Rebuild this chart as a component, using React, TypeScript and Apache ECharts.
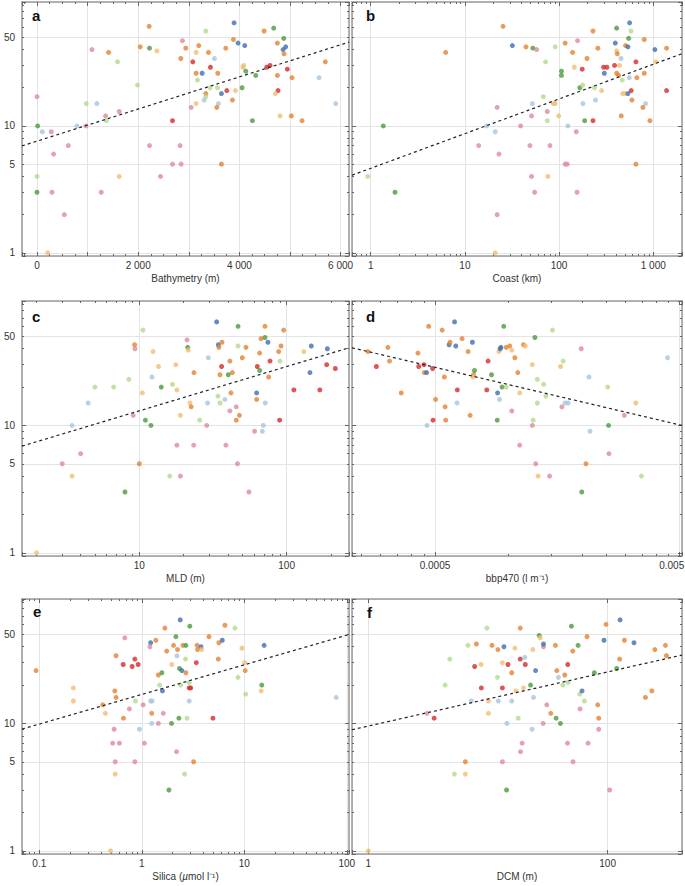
import React, { useEffect, useRef } from "react";
import * as echarts from "echarts";

// ---------- shared scales ----------
const Y_MIN = 0.944;
const Y_MAX = 94.8;
const yTicksMain = [1, 10];
const yTicksFive = [5, 50];

// ---------- panel a: Bathymetry ----------
const aX = [
  0, 1086, 1415, 1592, 1987, 2040, 2217, 2224, 2369, 2875,
  2941, 2842, 3079, 3145, 3198, 3336, 3389, 3507, 3428, 3145,
  3264, 3573, 3171, 3421, 3566, 3336, 3336, 3303, 3145, 3047,
  3586, 3553, 3645, 3751, 3731, 3882, 3895, 3974, 4106, 3922,
  3863, 4086, 4070, 4126, 4323, 4053, 4257, 4488, 4678, 4876,
  4751, 4863, 4915, 4882, 4540, 4606, 4948, 4751, 5040, 4764,
  4711, 4803, 5027, 5238, 5698, 5573, 5903, 2678, 13, 105,
  283, 329, 619, 790, 967, 974, 1184, 1355, 1369, 1625,
  2224, 2829, 2678, 2849, 2441, 1625, 3645, 0, 0, 296,
  1270, 540, 211,
];
const aY = [
  17, 40, 38, 32, 21, 42, 61, 41, 39, 47,
  41, 34, 32, 38, 43, 56, 38, 34, 29, 26,
  26, 26, 23, 20, 20, 18, 17, 16, 15, 14,
  15, 14, 18, 19, 41, 48, 65, 45, 43, 19,
  16, 30, 29, 27, 25, 20, 11, 56, 59, 49,
  45, 40, 42, 37, 29, 30, 28, 25, 24, 19,
  18, 12, 12, 11, 32, 24, 15, 11, 10, 9,
  9, 6, 7, 10, 10, 15, 15, 12, 11, 13,
  7, 7, 5, 5, 4, 4, 5, 4, 3, 3,
  3, 2, 1,
];
const aC = [
  "P", "P", "O", "LG", "LG", "O", "O", "G", "LO", "P",
  "O", "O", "R", "LO", "O", "LG", "O", "LB", "R", "O",
  "B", "O", "LG", "LG", "LG", "O", "LG", "LB", "LO", "P",
  "LB", "O", "B", "R", "O", "O", "B", "B", "B", "LO",
  "O", "LO", "LO", "G", "G", "G", "G", "O", "G", "G",
  "O", "B", "B", "O", "R", "R", "R", "O", "O", "R",
  "LO", "LO", "O", "O", "O", "LB", "LB", "R", "G", "LB",
  "P", "P", "P", "LB", "P", "LG", "LB", "P", "LG", "P",
  "P", "P", "P", "P", "P", "LO", "O", "LG", "G", "P",
  "P", "P", "LO",
];
const aTicks = [0, 2000, 4000, 6000];
const aRange = [-296, 6166];
const aFitX = [-296, 6166];
const aFitY = [6.96, 45.8];

// ---------- panel b: Coast ----------
const bX = [
  25.4, 6.25, 1.36, 0.93, 1.81, 31.9, 44.5, 52.8, 57.8, 71.9,
  91, 116, 157, 139, 106, 106, 145, 198, 176, 229,
  258, 408, 561, 579, 547, 395, 508, 538, 408, 415,
  454, 802, 1040, 297, 322, 388, 438, 654, 1066, 1384,
  302, 408, 428, 556, 670, 802, 469, 166, 178, 238,
  283, 473, 504, 538, 583, 1384, 593, 776, 828, 457,
  921, 187, 229, 244, 179, 68, 87, 91, 52, 75,
  51, 75, 99, 22, 17, 39, 124, 21, 152, 14,
  49, 80, 23, 116, 122, 654, 51, 76, 55, 155,
  22, 21,
];
const bY = [
  61, 38, 10, 4, 3, 43, 42, 41, 40, 32,
  42, 45, 47, 38, 27, 25, 29, 34, 28, 56,
  41, 59, 65, 56, 49, 45, 43, 42, 39, 37,
  34, 48, 40, 29, 29, 30, 30, 32, 32, 41,
  26, 26, 25, 24, 24, 26, 23, 20, 21, 20,
  19, 18, 18, 18, 19, 19, 16, 14, 15, 12,
  11, 11, 11, 16, 15, 17, 15, 15, 15, 13,
  12, 11, 12, 14, 10, 10, 10, 9, 9, 7,
  7, 7, 6, 5, 5, 5, 4, 4, 3, 3,
  2, 1,
];
const bC = [
  "O", "O", "G", "LG", "G", "B", "O", "G", "P", "LG",
  "LG", "O", "P", "O", "G", "G", "LO", "O", "R", "O",
  "O", "G", "B", "LG", "G", "B", "O", "B", "LO", "O",
  "LB", "O", "B", "R", "R", "R", "LO", "R", "LO", "O",
  "B", "O", "O", "LB", "O", "O", "LG", "G", "LG", "LG",
  "LO", "LO", "LO", "B", "R", "R", "O", "O", "LB", "O",
  "O", "G", "R", "LB", "LB", "LG", "LO", "LO", "LB", "P",
  "P", "LG", "LO", "P", "LB", "P", "LB", "LB", "P", "P",
  "P", "P", "P", "P", "P", "O", "P", "LO", "P", "P",
  "P", "LO",
];
const bTicks = [1, 10, 100, 1000];
const bRange = [0.633, 2018];
const bFitX = [0.633, 2018];
const bFitY = [4.09, 37.1];

// ---------- panel c: MLD ----------
const cX = [
  2.01, 3.0, 3.5, 4.0, 3.5, 4.5, 5.0, 6.7, 8.5, 8.0,
  9.1, 9.3, 9.35, 10, 10.6, 10.5, 11.0, 12.0, 12.4, 12.2,
  13.5, 14.1, 16.8, 16.1, 17.7, 18.0, 18.0, 19.0, 19.0, 21.1,
  21.3, 21.5, 22.1, 22.5, 23.5, 23.4, 25.7, 28.7, 29.1, 29.4,
  33.5, 34.4, 34.7, 36.4, 36.2, 35.3, 34.2, 35.3, 38.1, 38.7,
  40.2, 41.2, 41.9, 42.8, 41.2, 46.8, 46.8, 45.5, 47.8, 45.5,
  46.4, 50, 53, 55.5, 60.6, 62.6, 62.6, 63.2, 65.6, 65.6,
  67, 68.4, 69.5, 71.3, 71.3, 71.6, 74.6, 75.5, 77.1, 88.3,
  90.1, 91.6, 89.6, 95.5, 112, 131, 144, 147, 168, 187,
  189, 214,
];
const cY = [
  1, 5, 4, 6, 10, 15, 20, 20, 23, 3,
  12, 43, 40, 5, 56, 18, 11, 10, 38, 24,
  29, 20, 21, 4, 30, 19, 7, 4, 12, 47,
  41, 39, 15, 14, 26, 7, 11, 10, 15, 34,
  65, 43, 41, 45, 29, 25, 17, 15, 16, 7,
  25, 32, 18, 26, 13, 60, 42, 14, 12, 11,
  5, 34, 41, 3, 9, 18, 16, 29, 27, 37,
  48, 9, 10, 49, 60, 15, 45, 24, 32, 38,
  32, 42, 11, 56, 19, 38, 26, 42, 19, 30,
  40, 28,
];
const cC = [
  "LO", "P", "LO", "P", "LB", "LB", "LG", "LG", "LG", "G",
  "P", "O", "P", "O", "LG", "LO", "G", "G", "LO", "LB",
  "LO", "G", "LG", "LG", "LO", "LO", "P", "P", "LO", "P",
  "G", "LO", "LO", "O", "O", "P", "LG", "P", "LB", "LB",
  "B", "B", "O", "O", "R", "O", "LG", "LG", "LB", "P",
  "G", "O", "O", "O", "P", "G", "LG", "P", "O", "O",
  "P", "O", "O", "P", "P", "B", "O", "R", "G", "O",
  "O", "LB", "LB", "G", "O", "LB", "B", "O", "R", "O",
  "LG", "O", "R", "O", "R", "LO", "B", "B", "R", "R",
  "B", "R",
];
const cTicks = [10, 100];
const cRange = [1.6, 265];
const cFitX = [1.6, 265];
const cFitY = [6.88, 40.7];

// ---------- panel d: bbp470 ----------
const dX = [
  0.000266, 0.000288, 0.000321, 0.000326, 0.000364, 0.000426, 0.000429, 0.000451, 0.000452, 0.000462,
  0.000471, 0.000489, 0.000491, 0.000464, 0.000503, 0.000535, 0.000546, 0.00055, 0.000553, 0.000571,
  0.000576, 0.000601, 0.000608, 0.000617, 0.000615, 0.000645, 0.000683, 0.000696, 0.000711, 0.000718,
  0.000725, 0.000714, 0.000824, 0.000814, 0.000851, 0.000898, 0.000901, 0.000918, 0.000912, 0.000923,
  0.00093, 0.00094, 0.000955, 0.000977, 0.000977, 0.00101, 0.00103, 0.00103, 0.00106, 0.00109,
  0.00111, 0.00111, 0.00115, 0.00117, 0.00125, 0.00126, 0.00125, 0.00128, 0.00129, 0.00131,
  0.00131, 0.00132, 0.00139, 0.00142, 0.00147, 0.00151, 0.00163, 0.00167, 0.00165, 0.0017,
  0.00175, 0.00198, 0.00199, 0.00207, 0.00213, 0.00215, 0.00254, 0.00256, 0.00257, 0.00297,
  0.00331, 0.00349, 0.00446,
];
const dY = [
  38, 29, 41, 32, 18, 37, 29, 30, 26, 26,
  60, 28, 11, 10, 16, 56, 24, 14, 11, 43,
  45, 65, 42, 19, 15, 48, 38, 12, 45, 25,
  27, 24, 32, 19, 25, 11, 18, 16, 38, 40,
  41, 20, 60, 20, 41, 42, 39, 13, 34, 26,
  18, 7, 43, 42, 30, 11, 10, 49, 5, 23,
  15, 4, 21, 17, 4, 56, 29, 32, 14, 15,
  15, 40, 3, 5, 24, 9, 20, 10, 6, 12,
  15, 4, 34,
];
const dC = [
  "O", "R", "O", "O", "O", "O", "R", "R", "O", "B",
  "O", "R", "R", "LB", "O", "O", "O", "O", "O", "B",
  "O", "B", "B", "R", "LB", "O", "O", "O", "B", "O",
  "G", "LO", "R", "R", "G", "G", "B", "LB", "LO", "B",
  "B", "G", "G", "LG", "O", "O", "LO", "P", "O", "O",
  "LO", "P", "O", "LO", "LO", "LG", "P", "G", "P", "LG",
  "LG", "LO", "LG", "LG", "P", "LG", "LO", "LG", "P", "LB",
  "LB", "P", "G", "O", "LB", "LB", "LG", "G", "P", "P",
  "LO", "LG", "LB",
];
const dTicks = [0.0005, 0.005];
const dRange = [0.000229, 0.00511];
const dFitX = [0.000229, 0.00511];
const dFitY = [40.7, 10.0];

// ---------- panel e: Silica ----------
const eX = [
  0.093, 0.215, 0.215, 0.416, 0.441, 0.545, 0.561, 0.561, 0.537, 0.52,
  0.605, 0.55, 0.55, 0.497, 0.658, 0.682, 0.662, 0.757, 0.805, 0.855,
  0.921, 0.867, 0.855, 0.949, 1.03, 1.06, 1.22, 1.2, 1.22, 1.26,
  1.25, 1.25, 1.37, 1.45, 1.45, 1.49, 1.57, 1.59, 1.68, 1.75,
  1.62, 1.95, 1.96, 2.04, 2.15, 2.2, 2.23, 2.18, 2.3, 2.33,
  2.37, 2.39, 2.46, 2.52, 2.61, 2.67, 2.69, 2.69, 2.76, 2.9,
  2.9, 3.0, 2.9, 2.94, 3.2, 1.84, 3.4, 3.46, 3.5, 3.78,
  3.83, 4.52, 4.94, 5.57, 5.65, 6.1, 6.47, 8.1, 8.67, 9.48,
  10.07, 10.2, 10.3, 14.6, 14.8, 15.6, 78.7,
];
const eY = [
  26, 19, 15, 14, 12, 18, 16, 34, 9, 7,
  7, 5, 4, 1, 29, 47, 11, 13, 28, 32,
  29, 15, 5, 9, 14, 7, 43, 40, 15, 15,
  10, 12, 45, 10, 24, 20, 25, 18, 56, 37,
  12, 10, 29, 41, 48, 34, 38, 6, 11, 27,
  65, 20, 26, 41, 4, 32, 25, 41, 11, 21,
  19, 19, 15, 58, 5, 3, 30, 41, 38, 40,
  38, 48, 11, 32, 43, 45, 59, 56, 23, 39,
  30, 26, 17, 18, 20, 41, 16,
];
const eC = [
  "O", "LO", "LO", "O", "LO", "O", "O", "O", "P", "P",
  "P", "P", "LO", "LO", "R", "P", "O", "P", "R", "R",
  "R", "LG", "P", "LB", "P", "P", "B", "P", "LB", "LB",
  "LB", "O", "O", "P", "O", "LG", "G", "B", "O", "O",
  "P", "G", "LO", "O", "G", "LB", "O", "P", "G", "G",
  "B", "LG", "B", "O", "LG", "LG", "O", "G", "LG", "LG",
  "R", "R", "LB", "G", "O", "G", "R", "O", "O", "B",
  "LO", "O", "R", "O", "O", "B", "O", "LG", "LG", "LO",
  "LO", "O", "LG", "LO", "G", "B", "LB",
];
const eTicks = [0.1, 1, 10, 100];
const eRange = [0.0678, 105];
const eFitX = [0.0678, 105];
const eFitY = [9.03, 49.9];

// ---------- panel f: DCM ----------
const fX = [
  1.0, 3.1, 3.55, 4.38, 4.8, 5.24, 6.47, 6.47, 6.8, 7.26,
  7.74, 8.0, 8.75, 8.8, 9.8, 10.1, 10.1, 10.8, 12.1, 12.0,
  12.2, 13.2, 13.2, 13.2, 13.6, 14.3, 14.4, 14.7, 15.8, 15.8,
  16.8, 17.1, 17.9, 18.6, 18.6, 18.7, 19.3, 19.8, 20.3, 20.5,
  22.7, 23.7, 24, 23.4, 25, 26.8, 27.3, 28.9, 29.1, 29.1,
  31, 33.5, 36.6, 37.1, 37.6, 38.8, 40.3, 42.2, 43.8, 46.2,
  46.4, 46.7, 49.8, 51.1, 51.4, 56.6, 58.4, 58.8, 61.1, 63.9,
  67.2, 68.6, 77.4, 82.6, 84.2, 84.2, 93.2, 96.9, 104, 119,
  126, 127, 138, 166, 207, 234, 248, 304, 310,
];
const fY = [
  1, 12, 11, 20, 32, 4, 4, 5, 41, 15,
  28, 42, 29, 19, 56, 15, 12, 41, 38, 23,
  15, 30, 19, 5, 40, 3, 10, 29, 25, 15,
  39, 18, 11, 56, 32, 6, 7, 19, 33, 29,
  20, 38, 16, 9, 26, 49, 47, 10, 40, 42,
  14, 12, 41, 11, 26, 23, 10, 20, 24, 7,
  29, 21, 58, 37, 5, 41, 17, 13, 18, 15,
  48, 7, 25, 14, 11, 9, 45, 60, 3, 27,
  32, 65, 45, 43, 16, 18, 38, 41, 34,
];
const fC = [
  "LO", "P", "R", "LG", "LG", "LG", "LO", "O", "LG", "LB",
  "R", "O", "LO", "R", "LG", "LO", "LO", "O", "O", "LG",
  "LB", "LO", "R", "P", "B", "G", "LB", "R", "O", "LB",
  "LO", "LO", "LG", "O", "R", "P", "P", "LO", "LB", "R",
  "G", "LO", "LB", "LB", "B", "G", "LO", "P", "P", "B",
  "P", "O", "O", "G", "O", "LB", "G", "LG", "O", "P",
  "R", "LG", "G", "O", "P", "G", "LG", "P", "B", "LG",
  "O", "P", "G", "O", "O", "P", "B", "O", "P", "G",
  "O", "B", "O", "B", "O", "O", "O", "O", "O",
];
const fTicks = [1, 100];
const fRange = [0.731, 418];
const fFitX = [0.731, 418];
const fFitY = [8.92, 34.4];

// ---------- styling ----------
const PALETTE: Record<string, string> = {
  P: "#e0899c",
  LB: "#a6c5df",
  LG: "#b3d98c",
  G: "#4a9b3c",
  B: "#3e6fb0",
  R: "#d42a2a",
  LO: "#f2bd72",
  O: "#e5822f",
};
const FONT = "'Liberation Sans', Arial, Helvetica, sans-serif";
const FRAME = "#9a9a9a";
const GRIDC = "#e4e4e4";
const TICK = "#666";
const TXT = "#333";

function fmt(v: number): string {
  if (v >= 1000) return String(v).replace(/\B(?=(\d{3})+(?!\d))/g, " ");
  return String(v);
}
function pickLabel(v: number, ticks: number[], scale = 1): string {
  const val = v * scale;
  for (const t of ticks) {
    if (t === 0 ? Math.abs(val) < 1e-9 : Math.abs(val / t - 1) < 1e-6) return fmt(t);
  }
  return "";
}

type Panel = {
  letter: string;
  letterPos: [number, number];
  grid: { left: number; top: number; width: number; height: number };
  xType: "value" | "log";
  logBase?: number;
  range: number[];
  ticks: number[];
  twin?: number;
  shiftLast?: boolean;
  minor: number;
  name: string;
  rich?: any;
  x: number[];
  y: number[];
  c: string[];
  fitX: number[];
  fitY: number[];
  yLabels: boolean;
};

const panels: Panel[] = [
  { letter: "a", letterPos: [32, 8], grid: { left: 22, top: 2, width: 327, height: 254 }, xType: "value", range: aRange, ticks: aTicks, minor: 4, name: "Bathymetry (m)", x: aX, y: aY, c: aC, fitX: aFitX, fitY: aFitY, yLabels: true },
  { letter: "b", letterPos: [366, 8], grid: { left: 352, top: 2, width: 330, height: 254 }, xType: "log", range: bRange, ticks: bTicks, minor: 9, name: "Coast (km)", x: bX, y: bY, c: bC, fitX: bFitX, fitY: bFitY, yLabels: false },
  { letter: "c", letterPos: [32, 309], grid: { left: 22, top: 301, width: 327, height: 255 }, xType: "log", range: cRange, ticks: cTicks, minor: 9, name: "MLD (m)", x: cX, y: cY, c: cC, fitX: cFitX, fitY: cFitY, yLabels: true },
  { letter: "d", letterPos: [366, 309], grid: { left: 352, top: 301, width: 330, height: 255 }, xType: "log", range: dRange, ticks: dTicks, twin: 2, shiftLast: true, minor: 9, name: "bbp470 (l m⁻¹)", x: dX, y: dY, c: dC, fitX: dFitX, fitY: dFitY, yLabels: false },
  { letter: "e", letterPos: [33, 604], grid: { left: 22, top: 599, width: 327, height: 255 }, xType: "log", range: eRange, ticks: eTicks, minor: 9, name: "Silica ({it|µ}mol l⁻¹)", rich: { it: { fontStyle: "italic", fontSize: 10, fontFamily: FONT, color: TXT } }, x: eX, y: eY, c: eC, fitX: eFitX, fitY: eFitY, yLabels: true },
  { letter: "f", letterPos: [367, 605], grid: { left: 352, top: 599, width: 330, height: 255 }, xType: "log", logBase: 100, range: fRange, ticks: fTicks, minor: 0, name: "DCM (m)", x: fX, y: fY, c: fC, fitX: fFitX, fitY: fFitY, yLabels: false },
];

function buildOption() {
  const xAxes: any[] = [];
  const yAxes: any[] = [];
  const series: any[] = [];
  const line = { show: true, onZero: false, lineStyle: { color: FRAME, width: 1.5 } };
  const tick = { show: true, inside: true, length: 4, lineStyle: { color: TICK, width: 1 } };
  const minorTick = (n: number) => ({ show: n > 0, splitNumber: n > 0 ? n : 5, length: 2, lineStyle: { color: TICK, width: 1 } });
  const labelStyle = { fontSize: 10, fontFamily: FONT, color: TXT };

  panels.forEach((p, i) => {
    const twin = p.twin ?? 1;
    const common = { gridIndex: i, type: p.xType, logBase: p.logBase ?? 10 };
    const dispMin = p.range[0] * twin;
    const dispMax = p.range[1] * twin;
    const lastTick = p.ticks[p.ticks.length - 1];
    const display = {
      ...common,
      min: dispMin,
      max: dispMax,
      position: "bottom",
      axisLine: line,
      axisTick: tick,
      minorTick: minorTick(p.minor),
      splitLine: { show: true, lineStyle: { color: GRIDC, width: 1 } },
      axisLabel: {
        show: true, interval: 0, margin: 4, ...labelStyle,
        rich: { r: { ...labelStyle, padding: [0, 16, 0, 0] } },
        formatter: (v: number) => {
          const s = pickLabel(v, p.ticks, 1 / twin);
          if (p.shiftLast && s !== "" && s === fmt(lastTick)) return `{r|${s}}`;
          return s;
        },
      },
      name: p.name,
      nameLocation: "middle",
      nameGap: 17,
      nameTextStyle: { ...labelStyle, rich: p.rich },
    };
    let dataX: number;
    if (twin !== 1) {
      dataX = xAxes.length;
      xAxes.push({ ...common, min: p.range[0], max: p.range[1], position: "bottom", show: false });
      xAxes.push(display);
    } else {
      dataX = xAxes.length;
      xAxes.push(display);
    }
    xAxes.push({
      ...common, min: dispMin, max: dispMax, position: "top",
      axisLine: line, axisTick: tick, minorTick: minorTick(p.minor),
      axisLabel: { show: false }, splitLine: { show: false },
    });

    const dataY = yAxes.length;
    yAxes.push({
      type: "log", gridIndex: i, min: Y_MIN, max: Y_MAX, position: "left",
      axisLine: line, axisTick: tick, minorTick: minorTick(9),
      splitLine: { show: true, lineStyle: { color: GRIDC, width: 1 } },
      axisLabel: { show: p.yLabels, interval: 0, margin: 7, ...labelStyle, formatter: (v: number) => pickLabel(v, yTicksMain) },
    });
    yAxes.push({
      type: "log", gridIndex: i, min: Y_MIN / 5, max: Y_MAX / 5, position: "left",
      axisLine: { show: false, onZero: false }, axisTick: { show: false }, minorTick: { show: false },
      splitLine: { show: true, lineStyle: { color: GRIDC, width: 1 } },
      axisLabel: { show: p.yLabels, interval: 0, margin: 7, ...labelStyle, formatter: (v: number) => pickLabel(v, yTicksFive, 5) },
    });
    yAxes.push({
      type: "log", gridIndex: i, min: Y_MIN, max: Y_MAX, position: "right",
      axisLine: line, axisTick: tick, minorTick: minorTick(9),
      axisLabel: { show: false }, splitLine: { show: false },
    });

    series.push({
      type: "scatter",
      xAxisIndex: dataX,
      yAxisIndex: dataY,
      symbolSize: 5,
      z: 2,
      data: p.x.map((x, k) => ({ value: [x, p.y[k]], itemStyle: { color: PALETTE[p.c[k]] } })),
    });
    series.push({
      type: "line",
      xAxisIndex: dataX,
      yAxisIndex: dataY,
      symbol: "none",
      silent: true,
      z: 3,
      lineStyle: { color: "#222", width: 1.2, type: [3, 3] },
      data: p.fitX.map((x, k) => [x, p.fitY[k]]),
    });
  });

  return {
    animation: false,
    backgroundColor: "#ffffff",
    grid: panels.map((p) => ({ ...p.grid, outerBoundsMode: "none", containLabel: false })),
    xAxis: xAxes,
    yAxis: yAxes,
    series,
    graphic: panels.map((p) => ({
      type: "text",
      left: p.letterPos[0],
      top: p.letterPos[1],
      z: 10,
      style: { text: p.letter, font: `bold 15px ${FONT}`, fill: "#111" },
    })),
  };
}

export default function App() {
  const ref = useRef<HTMLDivElement>(null);
  useEffect(() => {
    if (!ref.current) return;
    const chart = echarts.init(ref.current, undefined, { renderer: "svg" });
    chart.setOption(buildOption() as any);
    return () => chart.dispose();
  }, []);
  return (
    <div
      ref={ref}
      style={{ position: "fixed", left: 0, top: 0, width: 685, height: 886, background: "#fff" }}
    />
  );
}
